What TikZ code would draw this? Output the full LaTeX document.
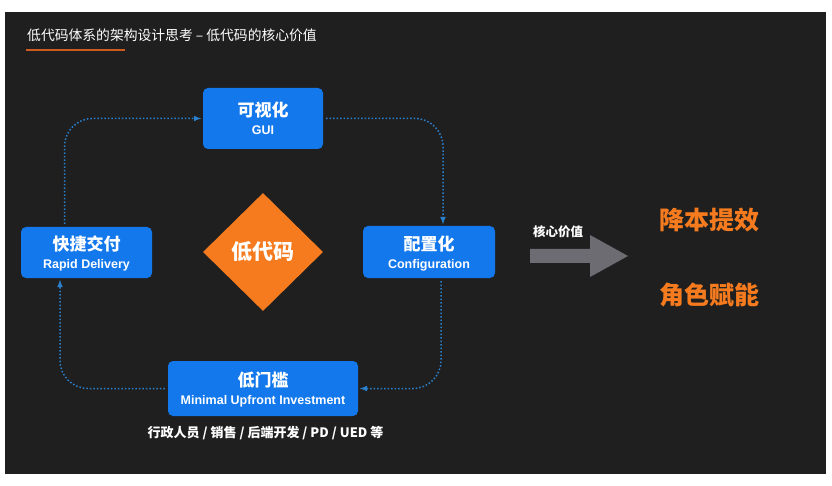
\documentclass[tikz,border=0pt]{standalone}
\usepackage{fontspec}
\setmainfont{Liberation Sans}
\newfontfamily\cjk{Noto Sans CJK SC}
\usetikzlibrary{arrows}
\usetikzlibrary{shapes.geometric}
\definecolor{mybg}{RGB}{31,31,31}
\definecolor{myblue}{RGB}{18,120,236}
\definecolor{myorange}{RGB}{245,123,30}
\definecolor{mygray}{RGB}{108,108,114}
\definecolor{mydot}{RGB}{42,128,205}
\definecolor{mybar}{RGB}{205,90,30}

\newcommand{\zh}{\cjk\bfseries\fontsize{17}{20}\selectfont}
\newcommand{\en}{\rmfamily\bfseries\fontsize{12.5}{15}\selectfont}

\tikzset{
  box/.style={fill=myblue, rounded corners=5pt, text=white, align=center, inner sep=0pt, text depth=-3pt},
  flow/.style={-latex, mydot, line width=1.5pt, dotted, rounded corners=28pt, shorten <=3pt, shorten >=1.5pt},
  value/.style={text=myorange, font=\cjk\bfseries\fontsize{25}{25}\selectfont}
}

\begin{document}
\begin{tikzpicture}[x=1pt, y=-1pt]

\fill[white] (0,0) rectangle (832,486);
\fill[mybg] (5,12) rectangle (826,474);

% title
\node[anchor=west, text=white, inner sep=0pt, font=\cjk\fontsize{13.8}{14}\selectfont] (title) at (27,35) {低代码体系的架构设计思考 – 低代码的核心价值};
\draw[line width=2pt, mybar] (26,50.5) -- (125,50.5);

% the cycle
\node[box, minimum width=120pt, minimum height=61pt] (gui) at (263,118.5) {\zh 可视化\\[6pt]\en GUI};
\node[box, minimum width=132pt, minimum height=52pt] (conf) at (429,252) {\zh 配置化\\[6pt]\en Configuration};
\node[box, minimum width=190pt, minimum height=55pt] (low) at (263,388.5) {\zh 低门槛\\[6pt]\en Minimal Upfront Investment};
\node[box, minimum width=131pt, minimum height=51pt] (quick) at (86.5,252.5) {\zh 快捷交付\\[6pt]\en Rapid Delivery};

\node[diamond, fill=myorange, text=white, inner sep=0pt, minimum width=120pt, minimum height=118pt, font=\cjk\bfseries\fontsize{21}{21}\selectfont] (core) at (263,252) {低代码};

\node[text=white, font=\cjk\bfseries\fontsize{13}{15}\selectfont] (staff) at (265.5,433) {行政人员 / 销售 / 后端开发 / PD / UED 等};

\draw[flow] ([xshift=-22pt]quick.north) |- (gui.west);
\draw[flow] (gui.east) -| ([xshift=14pt]conf.north);
\draw[flow] ([xshift=12pt]conf.south) |- (low.east);
\draw[flow] (low.west) -| ([xshift=-26.5pt]quick.south);

% core value
\fill[mygray] (530,249) -- (590,249) -- (590,235) -- (628,256) -- (590,277) -- (590,263) -- (530,263) -- cycle;
\node[text=white, font=\cjk\bfseries\fontsize{12.5}{14}\selectfont] (core-value) at (558,232) {核心价值};

\node[value] (cost) at (709,220) {降本提效};
\node[value] (role) at (709,295) {角色赋能};

\end{tikzpicture}
\end{document}
